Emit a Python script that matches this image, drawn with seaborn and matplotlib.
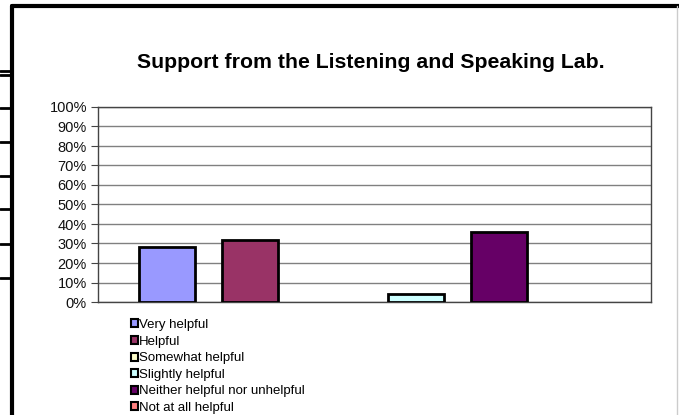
import numpy as np
import pandas as pd
import matplotlib
matplotlib.use("Agg")
import matplotlib.pyplot as plt
import seaborn as sns
from matplotlib.patches import Patch
from matplotlib.lines import Line2D

# data
categories = ["Very helpful", "Helpful", "Somewhat helpful", "Slightly helpful",
              "Neither helpful nor unhelpful", "Not at all helpful"]
values = [28, 32, 0, 4, 36, 0]
colors = ["#9999FF", "#993366", "#FFFFCC", "#CCFFFF", "#660066", "#FF8080"]
y_ticks = [0, 10, 20, 30, 40, 50, 60, 70, 80, 90, 100]

df = pd.DataFrame({"category": categories, "value": values})

sns.set_theme(style="white")
plt.rcParams["font.family"] = ["Liberation Sans", "DejaVu Sans"]
plt.rcParams["text.color"] = "black"

fig = plt.figure(figsize=(6.79, 4.15), dpi=100)
W, H = 679, 415
ax = fig.add_axes([98 / W, 1 - 302 / H, (651 - 98) / W, (302 - 107) / H])

sns.barplot(data=df, x="category", y="value", hue="category", order=categories,
            palette=colors, saturation=1, width=0.675, edgecolor="black", linewidth=2,
            dodge=False, legend=False, ax=ax, zorder=3)

# empty bars leave no outline in the original
for bar in ax.patches:
    if bar.get_height() == 0:
        bar.set_visible(False)

ax.set_xlim(-0.83, 5.83)
ax.set_ylim(0, 100)
ax.set_yticks(y_ticks)
ax.set_yticklabels([f"{t}%" for t in y_ticks], fontsize=10.5, color="#111111")
ax.set_xticks([])
ax.set_xlabel("")
ax.set_ylabel("")
ax.yaxis.grid(True, color="#808080", linewidth=1, zorder=0)
ax.tick_params(axis="y", left=True, length=5, width=0.8, color="#444444", pad=3)
for s in ax.spines.values():
    s.set_color("#444444")
    s.set_linewidth(1)

fig.text(371 / W, 1 - 62 / H, "Support from the Listening and Speaking Lab.",
         ha="center", va="center", fontsize=15.3, fontweight="bold", color="black")

handles = [Patch(facecolor=c, edgecolor="black", linewidth=1.5) for c in colors]
fig.legend(handles, categories, loc="upper left", bbox_to_anchor=(131 / W, 1 - 319 / H),
           frameon=False, fontsize=9.5, handlelength=0.55, handleheight=0.55,
           handletextpad=0.08, labelspacing=0.35, borderaxespad=0, borderpad=0,
           labelcolor="black")

# outer frame and leftover table rows on the left
fig.add_artist(Line2D([12 / W, 12 / W], [0, 1 - 6 / H], color="black", linewidth=3))
fig.add_artist(Line2D([12 / W, 1], [1 - 6 / H, 1 - 6 / H], color="black", linewidth=3))
fig.add_artist(Line2D([677 / W, 677 / W], [0, 1 - 6 / H], color="#cccccc", linewidth=1))
for yy in [71, 75, 108, 142, 176, 209, 244, 278]:
    fig.add_artist(Line2D([0, 12 / W], [1 - yy / H, 1 - yy / H], color="black", linewidth=2))

fig.savefig("out.png", dpi=100)
